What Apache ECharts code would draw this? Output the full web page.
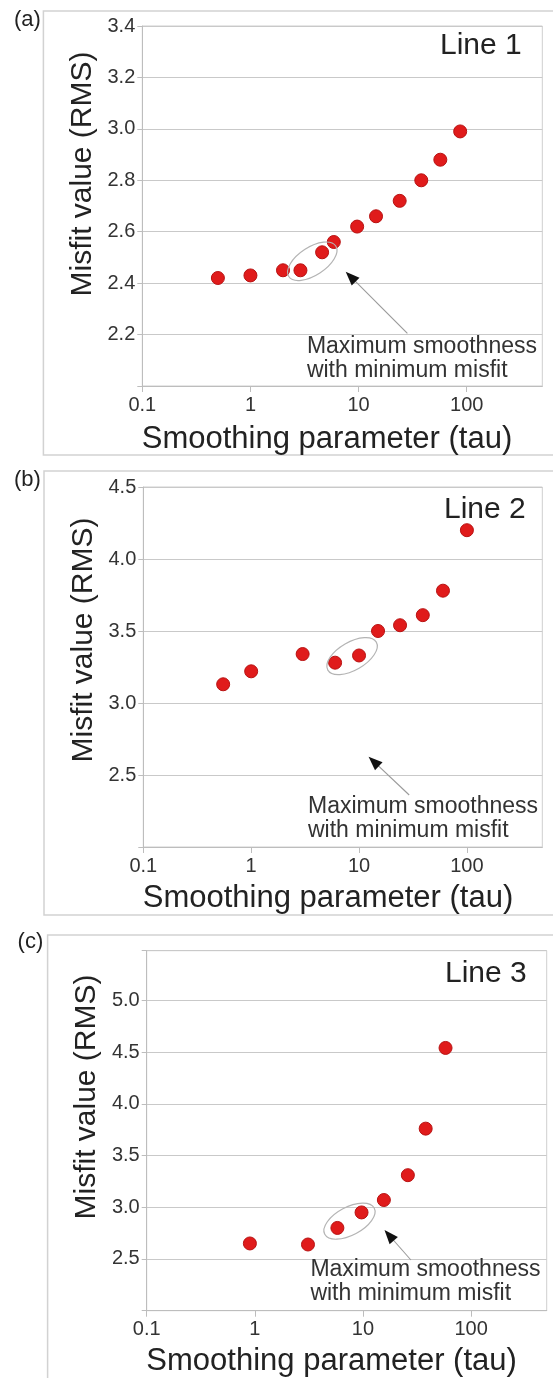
<!DOCTYPE html>
<html><head><meta charset="utf-8">
<script src="https://cdn.jsdelivr.net/npm/echarts@6/dist/echarts.min.js"></script>
<style>html,body{margin:0;padding:0;background:#fff}#c{width:553px;height:1378px}</style>
</head><body><div id="c"></div>
<script>
// ---- data ----
const xTickLabels = ['0.1', '1', '10', '100'];
const yTickLabelsA = ['2.2', '2.4', '2.6', '2.8', '3.0', '3.2', '3.4'];
const yTickLabelsB = ['2.5', '3.0', '3.5', '4.0', '4.5'];
const yTickLabelsC = ['2.5', '3.0', '3.5', '4.0', '4.5', '5.0'];

const tauA = [0.5, 1, 2, 2.9, 4.6, 5.9, 9.7, 14.5, 24, 38, 57, 87];
const misfitA = [2.42, 2.43, 2.45, 2.45, 2.52, 2.56, 2.62, 2.66, 2.72, 2.80, 2.88, 2.99];

const tauB = [0.55, 1, 3, 6, 10, 15, 24, 39, 60, 100];
const misfitB = [3.13, 3.22, 3.34, 3.28, 3.33, 3.50, 3.54, 3.61, 3.78, 4.20];

const tauC = [0.9, 3.1, 5.8, 9.7, 15.6, 26, 38, 58];
const misfitC = [2.65, 2.64, 2.80, 2.95, 3.07, 3.31, 3.76, 4.54];

const panelLetters = ['(a)', '(b)', '(c)'];
const lineNames = ['Line 1', 'Line 2', 'Line 3'];
const xTitle = 'Smoothing parameter (tau)';
const yTitle = 'Misfit value (RMS)';
const noteLines = ['Maximum smoothness', 'with minimum misfit'];

// ---- layout ----
const FONT = "'Liberation Sans', Arial, sans-serif";
const panels = [
  { tau: tauA, mis: misfitA, yLabels: yTickLabelsA, yMin: 2, yMax: 3.4, yInt: 0.2,
    grid: { left: 142.3, top: 26, width: 400, height: 360 },
    frame: { x: 43.4, y: 11, h: 444 }, letter: { x: 14, y: 20 },
    yTitle: { x: 83, y: 174 }, xTitle: { x: 327, y: 439 },
    lineLabel: { dx: 20.6, dy: 19.3 },
    circled: [3, 4], ell: { dx: 1, dy: 0, rx: 28, ry: 14, rot: 33 },
    tip: [203.4, 245.7], tail: [265.1, 307.3], note: { dx: 164.6, dy: 320.7 } },
  { tau: tauB, mis: misfitB, yLabels: yTickLabelsB, yMin: 2, yMax: 4.5, yInt: 0.5,
    grid: { left: 143.3, top: 487, width: 399, height: 360 },
    frame: { x: 44, y: 471, h: 444 }, letter: { x: 14, y: 480 },
    yTitle: { x: 84, y: 640 }, xTitle: { x: 328, y: 898 },
    lineLabel: { dx: 16.6, dy: 22.6 },
    circled: [3, 4], ell: { dx: 5, dy: -3, rx: 28, ry: 14, rot: 30 },
    tip: [225.3, 269.7], tail: [265.9, 308], note: { dx: 164.7, dy: 319.7 } },
  { tau: tauC, mis: misfitC, yLabels: yTickLabelsC, yMin: 2, yMax: 5.48, yInt: 0.5,
    grid: { left: 146.7, top: 950.7, width: 400, height: 360 },
    frame: { x: 47.6, y: 935, h: 520 }, letter: { x: 17.6, y: 942 },
    yTitle: { x: 87, y: 1097 }, xTitle: { x: 331.6, y: 1361 },
    lineLabel: { dx: 20, dy: 22.9 },
    circled: [2, 3], ell: { dx: 0, dy: 1, rx: 28, ry: 14, rot: 28 },
    tip: [237.8, 279.3], tail: [264.2, 309.3], note: { dx: 163.7, dy: 319.3 } }
];

const chart = echarts.init(document.getElementById('c'), null, { renderer: 'canvas' });

function xFmt(v) {
  for (const l of xTickLabels) {
    if (Math.abs(Math.log10(v) - Math.log10(parseFloat(l))) < 1e-6) return l;
  }
  return '';
}

const option = {
  animation: false,
  backgroundColor: '#fff',
  textStyle: { fontFamily: FONT },
  grid: panels.map(p => Object.assign({ show: true, borderColor: '#cfcfcf', borderWidth: 1, backgroundColor: 'transparent' }, p.grid)),
  xAxis: panels.map((p, i) => ({
    type: 'log', logBase: 10, gridIndex: i, min: 0.1, max: 500,
    axisLine: { show: true, onZero: false, lineStyle: { color: '#bdbdbd', width: 1 } },
    axisTick: { show: true, length: 6, lineStyle: { color: '#bdbdbd' } },
    splitLine: { show: false },
    minorTick: { show: false },
    axisLabel: { fontSize: 20, color: '#333', fontFamily: FONT, margin: 9,
      showMaxLabel: false, formatter: xFmt }
  })),
  yAxis: panels.map((p, i) => ({
    type: 'value', gridIndex: i, min: p.yMin, max: p.yMax, interval: p.yInt,
    axisLine: { show: true, lineStyle: { color: '#bdbdbd', width: 1 } },
    axisTick: { show: true, length: 5, lineStyle: { color: '#bdbdbd' } },
    splitLine: { show: true, lineStyle: { color: '#c9c9c9', width: 1 } },
    axisLabel: { fontSize: 20, color: '#333', fontFamily: FONT, margin: 7,
      formatter: v => { const s = v.toFixed(1); return p.yLabels.includes(s) ? s : ''; } }
  })),
  series: panels.map((p, i) => ({
    type: 'scatter', xAxisIndex: i, yAxisIndex: i,
    data: p.tau.map((t, k) => [t, p.mis[k]]),
    symbol: 'circle', symbolSize: 13,
    itemStyle: { color: '#e01b1b', borderColor: '#b81212', borderWidth: 1, opacity: 1 },
    emphasis: { disabled: true }
  }))
};
chart.setOption(option);

// ---- annotations (frames, titles, ellipse, arrow, note) ----
const graphics = [];
panels.forEach((p, i) => {
  const g = p.grid;
  graphics.push({ type: 'rect', silent: true, z: 0,
    shape: { x: p.frame.x, y: p.frame.y, width: 700, height: p.frame.h },
    style: { fill: 'none', stroke: '#d2d2d2', lineWidth: 1.5 } });
  graphics.push({ type: 'text', silent: true, x: p.letter.x, y: p.letter.y,
    style: { text: panelLetters[i], font: '22px ' + FONT, fill: '#222', textAlign: 'left', textVerticalAlign: 'middle' } });
  graphics.push({ type: 'text', silent: true, x: p.yTitle.x, y: p.yTitle.y, rotation: Math.PI / 2,
    style: { text: yTitle, font: '30px ' + FONT, fill: '#222', textAlign: 'center', textVerticalAlign: 'middle' } });
  graphics.push({ type: 'text', silent: true, x: p.xTitle.x, y: p.xTitle.y,
    style: { text: xTitle, font: '31px ' + FONT, fill: '#222', textAlign: 'center', textVerticalAlign: 'middle' } });
  graphics.push({ type: 'text', silent: true, x: g.left + g.width - p.lineLabel.dx, y: g.top + p.lineLabel.dy,
    style: { text: lineNames[i], font: '30px ' + FONT, fill: '#222', textAlign: 'right', textVerticalAlign: 'middle' } });
  // ellipse around circled points
  const a = chart.convertToPixel({ seriesIndex: i }, [p.tau[p.circled[0]], p.mis[p.circled[0]]]);
  const b = chart.convertToPixel({ seriesIndex: i }, [p.tau[p.circled[1]], p.mis[p.circled[1]]]);
  graphics.push({ type: 'ellipse', silent: true, z: 5,
    x: (a[0] + b[0]) / 2 + p.ell.dx, y: (a[1] + b[1]) / 2 + p.ell.dy,
    rotation: p.ell.rot * Math.PI / 180,
    shape: { cx: 0, cy: 0, rx: p.ell.rx, ry: p.ell.ry },
    style: { fill: 'none', stroke: '#b4b4b4', lineWidth: 1.2 } });
  // arrow
  const tip = [g.left + p.tip[0], g.top + p.tip[1]];
  const tail = [g.left + p.tail[0], g.top + p.tail[1]];
  const dx = tip[0] - tail[0], dy = tip[1] - tail[1];
  const len = Math.sqrt(dx * dx + dy * dy);
  const ux = dx / len, uy = dy / len;
  const L = 14, W = 5.5;
  const base = [tip[0] - ux * L, tip[1] - uy * L];
  graphics.push({ type: 'line', silent: true, z: 5,
    shape: { x1: tail[0], y1: tail[1], x2: base[0] + ux * 2, y2: base[1] + uy * 2 },
    style: { stroke: '#9a9a9a', lineWidth: 1.1 } });
  graphics.push({ type: 'polygon', silent: true, z: 6,
    shape: { points: [tip, [base[0] - uy * W, base[1] + ux * W], [base[0] + uy * W, base[1] - ux * W]] },
    style: { fill: '#111', stroke: 'none' } });
  // note text
  noteLines.forEach((t, k) => {
    graphics.push({ type: 'text', silent: true, z: 6, x: g.left + p.note.dx, y: g.top + p.note.dy + k * 23.5,
      style: { text: t, font: '23px ' + FONT, fill: '#333', textAlign: 'left', textVerticalAlign: 'middle' } });
  });
});
chart.setOption({ graphic: { elements: graphics } });
</script>
</body></html>
